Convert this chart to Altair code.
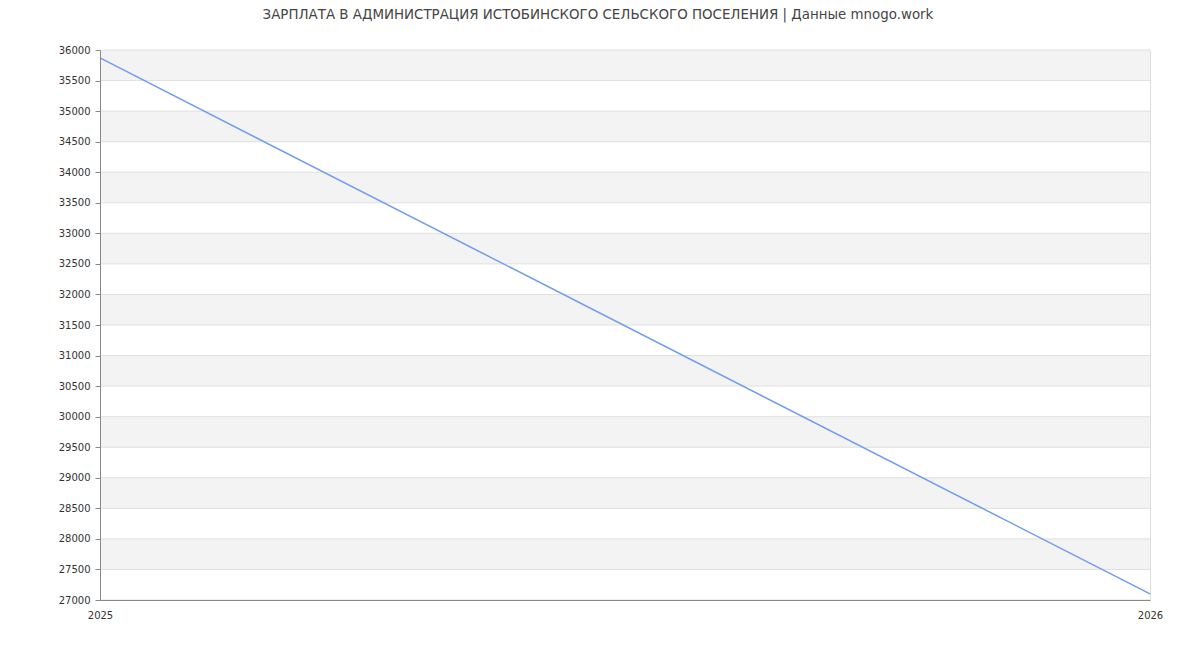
import altair as alt
import pandas as pd

years = [2025, 2026]
salary = [35870, 27100]

band_starts = [27500, 28500, 29500, 30500, 31500, 32500, 33500, 34500, 35500]
band_ends = [28000, 29000, 30000, 31000, 32000, 33000, 34000, 35000, 36000]

y_ticks = list(range(27000, 36001, 500))
title = "ЗАРПЛАТА В АДМИНИСТРАЦИЯ ИСТОБИНСКОГО СЕЛЬСКОГО ПОСЕЛЕНИЯ | Данные mnogo.work"

line_df = pd.DataFrame({"year": years, "salary": salary})
band_df = pd.DataFrame({"y0": band_starts, "y1": band_ends})
grid_df = pd.DataFrame({"g": y_ticks})

FONT = "DejaVu Sans"

yscale = alt.Scale(domain=[27000, 36000], nice=False, zero=False)
xscale = alt.Scale(domain=[2025, 2026], nice=False, zero=False)

y_axis = alt.Axis(values=y_ticks, format="d", title=None, grid=False,
                  domainColor="#888888", tickColor="#888888",
                  tickSize=5, labelFont=FONT, labelFontSize=10,
                  labelColor="#333333", labelPadding=5,
                  labelOverlap=False, zindex=1)

bands = alt.Chart(band_df).mark_rect(color="#f3f3f3").encode(
    y=alt.Y("y0:Q", scale=yscale, axis=y_axis),
    y2="y1:Q",
    x=alt.value(0),
    x2=alt.value(1050),
)

grid = alt.Chart(grid_df).mark_rule(color="#e0e0e0", strokeWidth=1).encode(
    y=alt.Y("g:Q", scale=yscale, axis=y_axis),
    x=alt.value(0),
    x2=alt.value(1050),
)

line = alt.Chart(line_df).mark_line(color="#6f9cf0", strokeWidth=1.5).encode(
    x=alt.X("year:Q", scale=xscale,
            axis=alt.Axis(values=years, format="d", title=None, grid=False,
                          domainColor="#888888", ticks=False,
                          labelFont=FONT, labelFontSize=10, labelColor="#333333",
                          labelPadding=10, labelFlush=False, zindex=1)),
    y=alt.Y("salary:Q", scale=yscale, axis=y_axis),
)

chart = alt.layer(bands, grid, line).properties(
    width=1050,
    height=550,
    padding={"left": 92, "top": 42, "right": 42, "bottom": 42},
    autosize=alt.AutoSizeParams(type="none"),
    title=alt.TitleParams(title, font=FONT, fontSize=13.4, fontWeight="normal",
                          color="#444444", anchor="middle", dx=-27, offset=24),
).configure_view(stroke="#e0e0e0", strokeWidth=1
).configure_axis(labelOverlap=False
).configure(background="white")

chart.save("out.html", embed_options={"renderer": "svg", "actions": False})
